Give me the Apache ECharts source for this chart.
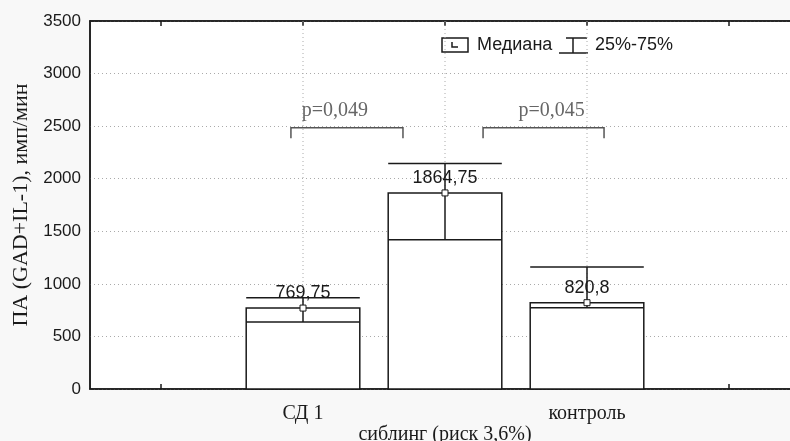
<!DOCTYPE html>
<html>
<head>
<meta charset="utf-8">
<script src="https://cdn.jsdelivr.net/npm/echarts@6/dist/echarts.min.js"></script>
<style>
  html, body { margin: 0; padding: 0; background: #f8f8f8; overflow: hidden; }
  /* шире окна: правая граница графика уходит за край, как в оригинале */
  #main { width: 800px; height: 441px; }
</style>
</head>
<body>
<div id="main"></div>
<script>
// категории оси X (крайние пустые - как в Statistica)
const categories = ['', 'СД 1', 'сиблинг (риск 3,6%)', 'контроль', '']
const groupPos = [1, 2, 3]
const medians = [769.75, 1864.75, 820.8]
const q25 = [637, 1419, 773]
const q75 = [867, 2144, 1161]
const medianLabels = ['769,75', '1864,75', '820,8']
const yTicks = [0, 500, 1000, 1500, 2000, 2500, 3000, 3500]

// p-значения: от, до, уровень скобки, низ скобки
const pTexts = ['p=0,049', 'p=0,045']
const pFrom = [0.915, 2.268]
const pTo = [1.704, 3.12]
const pLevel = [2485, 2485]
const pDrop = [2384, 2384]

const SANS = '"Liberation Sans", Arial, sans-serif'
const SERIF = '"Liberation Serif", "Times New Roman", serif'
const INK = '#1a1a1a'

const chart = echarts.init(document.getElementById('main'))

const renderBox = (params, api) => {
  const x = api.value(0)
  const lo = api.value(1), med = api.value(2), hi = api.value(3)
  const p0 = api.coord([x, 0])
  const pm = api.coord([x, med])
  const pl = api.coord([x, lo])
  const ph = api.coord([x, hi])
  const w = api.size([1, 0])[0] * 0.8
  const cx = p0[0]
  const ln = { stroke: INK, lineWidth: 1.5 }
  return {
    type: 'group',
    children: [
      { type: 'rect', shape: { x: cx - w / 2, y: pm[1], width: w, height: p0[1] - pm[1] }, style: { fill: '#fff', stroke: INK, lineWidth: 1.5 } },
      { type: 'line', shape: { x1: cx - w / 2, y1: pl[1], x2: cx + w / 2, y2: pl[1] }, style: ln },
      { type: 'line', shape: { x1: cx, y1: pl[1], x2: cx, y2: ph[1] }, style: ln },
      { type: 'line', shape: { x1: cx - w / 2, y1: ph[1], x2: cx + w / 2, y2: ph[1] }, style: ln },
      { type: 'rect', shape: { x: cx - 3, y: pm[1] - 3, width: 6, height: 6 }, style: { fill: '#fff', stroke: INK, lineWidth: 1 } },
      { type: 'text', style: { text: medianLabels[params.dataIndex], x: cx, y: pm[1] - 15, align: 'center', verticalAlign: 'middle', font: '18px ' + SANS, fill: INK } }
    ]
  }
}

const renderBracket = (params, api) => {
  const a = api.coord([api.value(0), api.value(2)])
  const b = api.coord([api.value(1), api.value(2)])
  const d = api.coord([api.value(0), api.value(3)])
  const st = { stroke: '#555', lineWidth: 1.5, fill: null }
  return {
    type: 'group',
    children: [
      { type: 'polyline', shape: { points: [[a[0], d[1]], [a[0], a[1]], [b[0], b[1]], [b[0], d[1]]] }, style: st },
      { type: 'text', style: { text: pTexts[params.dataIndex], x: (a[0] + b[0]) / 2 + (params.dataIndex === 0 ? -12 : 8), y: a[1] - 17, align: 'center', verticalAlign: 'middle', font: '20px ' + SERIF, fill: '#666' } }
    ]
  }
}

const renderVGrid = (params, api) => {
  const top = api.coord([api.value(0), yTicks[yTicks.length - 1]])
  const bot = api.coord([api.value(0), 0])
  return { type: 'line', shape: { x1: top[0], y1: top[1], x2: bot[0], y2: bot[1] }, style: { stroke: '#aaa', lineWidth: 1, lineDash: [1, 3] } }
}

const catTick = { show: true, alignWithLabel: true, inside: true, length: 5, interval: 0, lineStyle: { color: INK, width: 1.5 } }

chart.setOption({
  backgroundColor: '#f8f8f8',
  animation: false,
  grid: {
    left: 90, right: 0, top: 21, bottom: 52, outerBoundsMode: 'none', containLabel: false,
    show: true, backgroundColor: '#fff', borderColor: INK, borderWidth: 1.5
  },
  xAxis: [
    {
      type: 'category', data: categories, position: 'bottom',
      axisLine: { lineStyle: { color: INK, width: 1.5 } },
      axisTick: catTick,
      axisLabel: {
        interval: 0, margin: 14, color: INK, fontFamily: SERIF, fontSize: 20, lineHeight: 21,
        formatter: (v, i) => i === 2 ? '\n' + v : v
      },
      splitLine: { show: false }
    },
    {
      type: 'category', data: categories, position: 'top',
      axisLine: { lineStyle: { color: INK, width: 1.5 } },
      axisTick: catTick,
      axisLabel: { show: false },
      splitLine: { show: false }
    },
    { type: 'value', min: -0.5, max: 4.5, show: false }
  ],
  yAxis: {
    type: 'value', min: 0, max: 3500, interval: 500,
    name: 'ПА (GAD+IL-1), имп/мин', nameLocation: 'middle', nameGap: 44, nameRotate: 90,
    nameTextStyle: { fontFamily: SERIF, fontSize: 22, color: INK },
    axisLine: { show: true, onZero: false, lineStyle: { color: INK, width: 1.5 } },
    axisTick: { show: false },
    axisLabel: { margin: 9, color: INK, fontFamily: SANS, fontSize: 17, formatter: v => String(v) },
    splitLine: { lineStyle: { color: '#aaa', type: [1, 3], width: 1 } }
  },
  series: [
    { type: 'custom', xAxisIndex: 2, renderItem: renderVGrid, data: groupPos.map(v => [v]), z: 1, silent: true },
    {
      type: 'custom', xAxisIndex: 2, renderItem: renderBox, z: 3, silent: true,
      data: groupPos.map((x, i) => [x, q25[i], medians[i], q75[i]])
    },
    {
      type: 'custom', xAxisIndex: 2, renderItem: renderBracket, z: 3, silent: true,
      data: pFrom.map((f, i) => [f, pTo[i], pLevel[i], pDrop[i]])
    }
  ],
  graphic: [
    { type: 'rect', shape: { x: 442, y: 38, width: 26, height: 14 }, style: { fill: '#fff', stroke: INK, lineWidth: 1.5 } },
    { type: 'polyline', shape: { points: [[452, 42], [452, 47], [458, 47]] }, style: { stroke: INK, lineWidth: 1.5, fill: null } },
    { type: 'text', style: { text: 'Медиана', x: 477, y: 45, verticalAlign: 'middle', font: '18px ' + SANS, fill: INK } },
    { type: 'line', shape: { x1: 573, y1: 38, x2: 573, y2: 53 }, style: { stroke: INK, lineWidth: 1.5 } },
    { type: 'line', shape: { x1: 566, y1: 38, x2: 587, y2: 38 }, style: { stroke: INK, lineWidth: 1.5 } },
    { type: 'line', shape: { x1: 559, y1: 53, x2: 588, y2: 53 }, style: { stroke: INK, lineWidth: 1.5 } },
    { type: 'text', style: { text: '25%-75%', x: 595, y: 45, verticalAlign: 'middle', font: '18px ' + SANS, fill: INK } }
  ]
})
</script>
</body>
</html>
